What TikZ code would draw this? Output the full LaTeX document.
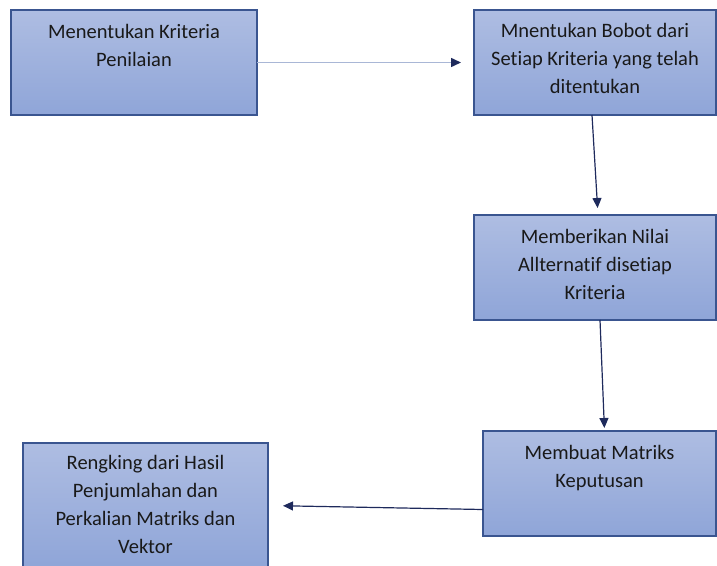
\documentclass[tikz,border=0pt]{standalone}
\usepackage{fontspec}
\setmainfont{Carlito}[Ligatures=NoCommon]
\usetikzlibrary{positioning,arrows.meta}
\definecolor{boxtop}{HTML}{AEBDE2}
\definecolor{boxbot}{HTML}{8FA5D8}
\definecolor{boxline}{HTML}{3A5590}
\definecolor{navy}{HTML}{1E2A5C}
\definecolor{paleline}{HTML}{A9B7D6}
\tikzset{
  stepbox/.style={draw=boxline,line width=1.6pt,top color=boxtop,bottom color=boxbot,
    anchor=north west,inner sep=0pt,outer sep=0pt},
  steptext/.style={align=center,inner sep=0pt,text=black!90,font=\fontsize{20.5}{28}\selectfont},
  flow/.style={draw=navy,line width=1.2pt,-{Triangle[length=10pt,width=9pt,color=navy]}}
}

\begin{document}
\begin{tikzpicture}[x=1pt,y=-1pt]
            \useasboundingbox (0,0) rectangle (717,565);
            \node[stepbox,minimum width=246pt,minimum height=105pt] (b1) at (11,10) {};
            \node[stepbox,minimum width=242pt,minimum height=105pt] (b2) at (474,10) {};
            \node[stepbox,minimum width=242pt,minimum height=105pt] (b3) at (474,215) {};
            \node[stepbox,minimum width=233pt,minimum height=105pt] (b4) at (483,431) {};
            \node[stepbox,minimum width=245pt,minimum height=125pt] (b5) at (23,443) {};
            \node[steptext,below=14pt of b1.north] (t1) {Menentukan Kriteria\\Penilaian};
            \node[steptext,below=13pt of b2.north] (t2) {Mnentukan Bobot dari\\Setiap Kriteria yang telah\\ditentukan};
            \node[steptext,below=14pt of b3.north] (t3) {Memberikan Nilai\\Allternatif disetiap\\Kriteria};
            \node[steptext,below=14pt of b4.north] (t4) {Membuat Matriks\\Keputusan};
            \node[steptext,below=12pt of b5.north] (t5) {Rengking dari Hasil\\Penjumlahan dan\\Perkalian Matriks dan\\Vektor};
            \draw[flow,draw=paleline,line width=1.5pt,shorten >=13pt] (b1.east) -- (b2.west);
            \draw[flow,shorten >=7pt] ([xshift=-3pt]b2.south) -- ([xshift=3pt]b3.north);
            \draw[flow,shorten >=3pt] ([xshift=5pt]b3.south) -- ([xshift=5pt]b4.north);
            \draw[flow,shorten >=15pt] ([yshift=-26pt]b4.west) -- (b5.east);
        \end{tikzpicture}
\end{document}
